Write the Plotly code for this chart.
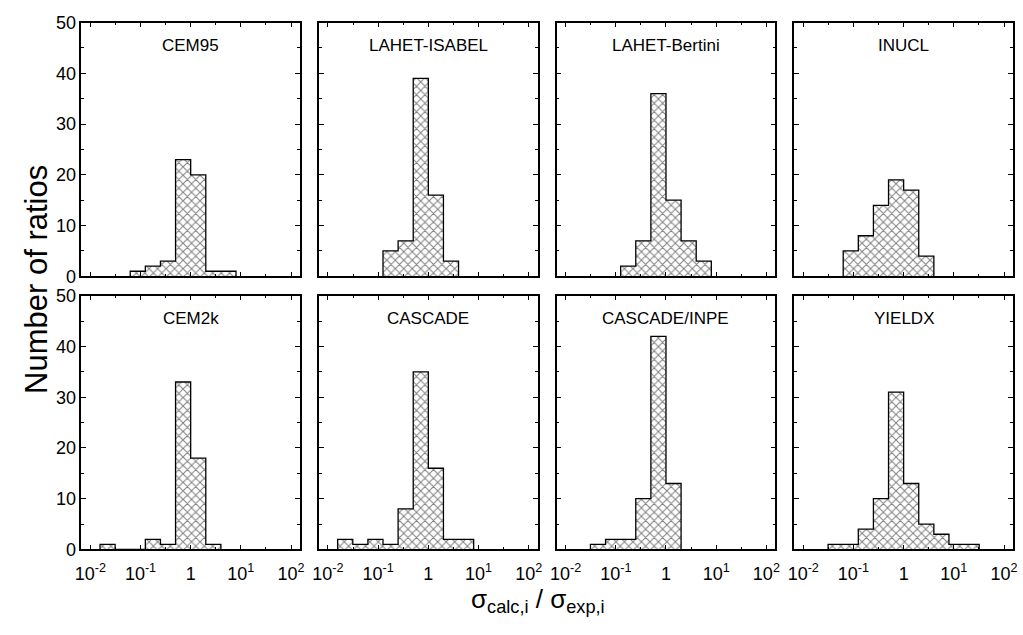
import plotly.graph_objects as go

# Bin edges (factor-of-two bins in the ratio sigma_calc / sigma_exp)
bin_edges = [1/64, 1/32, 1/16, 1/8, 1/4, 1/2, 1, 2, 4, 8, 16, 32]

# Number of ratios falling in each bin, one list per code
cem95 = [0, 0, 1, 2, 3, 23, 20, 1, 1, 0, 0]
lahet_isabel = [0, 0, 0, 5, 7, 39, 16, 3, 0, 0, 0]
lahet_bertini = [0, 0, 0, 2, 7, 36, 15, 7, 3, 0, 0]
inucl = [0, 0, 5, 8, 14, 19, 17, 4, 0, 0, 0]
cem2k = [1, 0, 0, 2, 1, 33, 18, 1, 0, 0, 0]
cascade = [2, 1, 2, 1, 8, 35, 16, 2, 2, 0, 0]
cascade_inpe = [0, 1, 2, 2, 10, 42, 13, 0, 0, 0, 0]
yieldx = [0, 1, 1, 4, 10, 31, 13, 5, 3, 1, 1]

panel_titles = ["CEM95", "LAHET-ISABEL", "LAHET-Bertini", "INUCL",
                "CEM2k", "CASCADE", "CASCADE/INPE", "YIELDX"]
panel_counts = [cem95, lahet_isabel, lahet_bertini, inucl,
                cem2k, cascade, cascade_inpe, yieldx]

x_tickvals = [0.01, 0.1, 1, 10, 100]
x_ticktext = ["10<sup>-2</sup>", "10<sup>-1</sup>", "1", "10<sup>1</sup>", "10<sup>2</sup>"]
x_minor_ticks = [10 ** -1.5, 10 ** -0.5, 10 ** 0.5, 10 ** 1.5]
y_tickvals = [0, 10, 20, 30, 40, 50]

FONT = "Liberation Sans, Arial, Helvetica, sans-serif"
W, H = 1023, 635

# panel geometry in pixels
col_left = [76, 316, 556, 796]
col_width = 221
row_top = [13, 295]
row_height = 262

fig = go.Figure()

for i, (title, counts) in enumerate(zip(panel_titles, panel_counts)):
    r, c = divmod(i, 4)
    n = i + 1
    xa = "x" if n == 1 else f"x{n}"
    ya = "y" if n == 1 else f"y{n}"

    # trim empty bins at both ends
    nz = [j for j, v in enumerate(counts) if v > 0]
    lo, hi = nz[0], nz[-1]
    edges = bin_edges[lo:hi + 2]
    vals = counts[lo:hi + 1]
    xs = [edges[0]] + edges
    ys = [0] + vals + [0]

    fig.add_trace(go.Scatter(
        x=xs, y=ys, mode="lines", line=dict(shape="hv", color="black", width=1.3),
        fill="tozeroy", fillcolor="white",
        fillpattern=dict(shape="x", fgcolor="black", bgcolor="white", size=6, solidity=0.3),
        xaxis=xa, yaxis=ya, showlegend=False, hoverinfo="skip",
    ))

    x0 = col_left[c] / W
    x1 = (col_left[c] + col_width) / W
    y1 = 1 - row_top[r] / H
    y0 = 1 - (row_top[r] + row_height) / H

    xkey = "xaxis" if n == 1 else f"xaxis{n}"
    ykey = "yaxis" if n == 1 else f"yaxis{n}"
    fig.layout[xkey] = dict(
        domain=[x0, x1], anchor=ya, type="log", range=[-2.18, 2.18],
        tickmode="array", tickvals=x_tickvals,
        ticktext=x_ticktext if r == 1 else [""] * 5,
        showticklabels=(r == 1),
        ticks="inside", ticklen=5, tickwidth=1, tickcolor="black",
        minor=dict(tickmode="array", tickvals=x_minor_ticks, ticks="inside",
                   ticklen=3, tickcolor="black"),
        showline=True, linecolor="black", linewidth=1.5, mirror="ticks",
        showgrid=False, zeroline=False, ticklabelstandoff=7,
        tickfont=dict(family=FONT, size=18, color="black"),
    )
    fig.layout[ykey] = dict(
        domain=[y0, y1], anchor=xa, range=[0, 50],
        tickmode="array", tickvals=y_tickvals,
        showticklabels=(c == 0),
        ticks="inside", ticklen=5, tickwidth=1, tickcolor="black",
        minor=dict(dtick=5, ticks="inside", ticklen=3, tickcolor="black"),
        showline=True, linecolor="black", linewidth=1.5, mirror="ticks",
        showgrid=False, zeroline=False,
        tickfont=dict(family=FONT, size=18, color="black"),
    )

    fig.add_annotation(
        text=title, x=(x0 + x1) / 2, y=y1, xref="paper", yref="paper",
        xanchor="center", yanchor="middle", yshift=-23, showarrow=False,
        font=dict(family=FONT, size=17, color="black"),
    )

# axis titles shared by the grid
fig.add_annotation(
    text="Number of ratios", x=31 / W, y=1 - 278 / H, xref="paper", yref="paper",
    textangle=-90, xanchor="center", yanchor="middle", showarrow=False,
    font=dict(family=FONT, size=31, color="black"),
)
fig.add_annotation(
    text="σ<sub>calc,i</sub> / σ<sub>exp,i</sub>", x=537 / W, y=1 - 610 / H,
    xref="paper", yref="paper", xanchor="center", yanchor="middle", showarrow=False,
    font=dict(family=FONT, size=26, color="black"),
)

fig.update_layout(
    width=W, height=H, margin=dict(l=0, r=0, t=0, b=0),
    paper_bgcolor="white", plot_bgcolor="white",
)

fig.write_html("out.html")
